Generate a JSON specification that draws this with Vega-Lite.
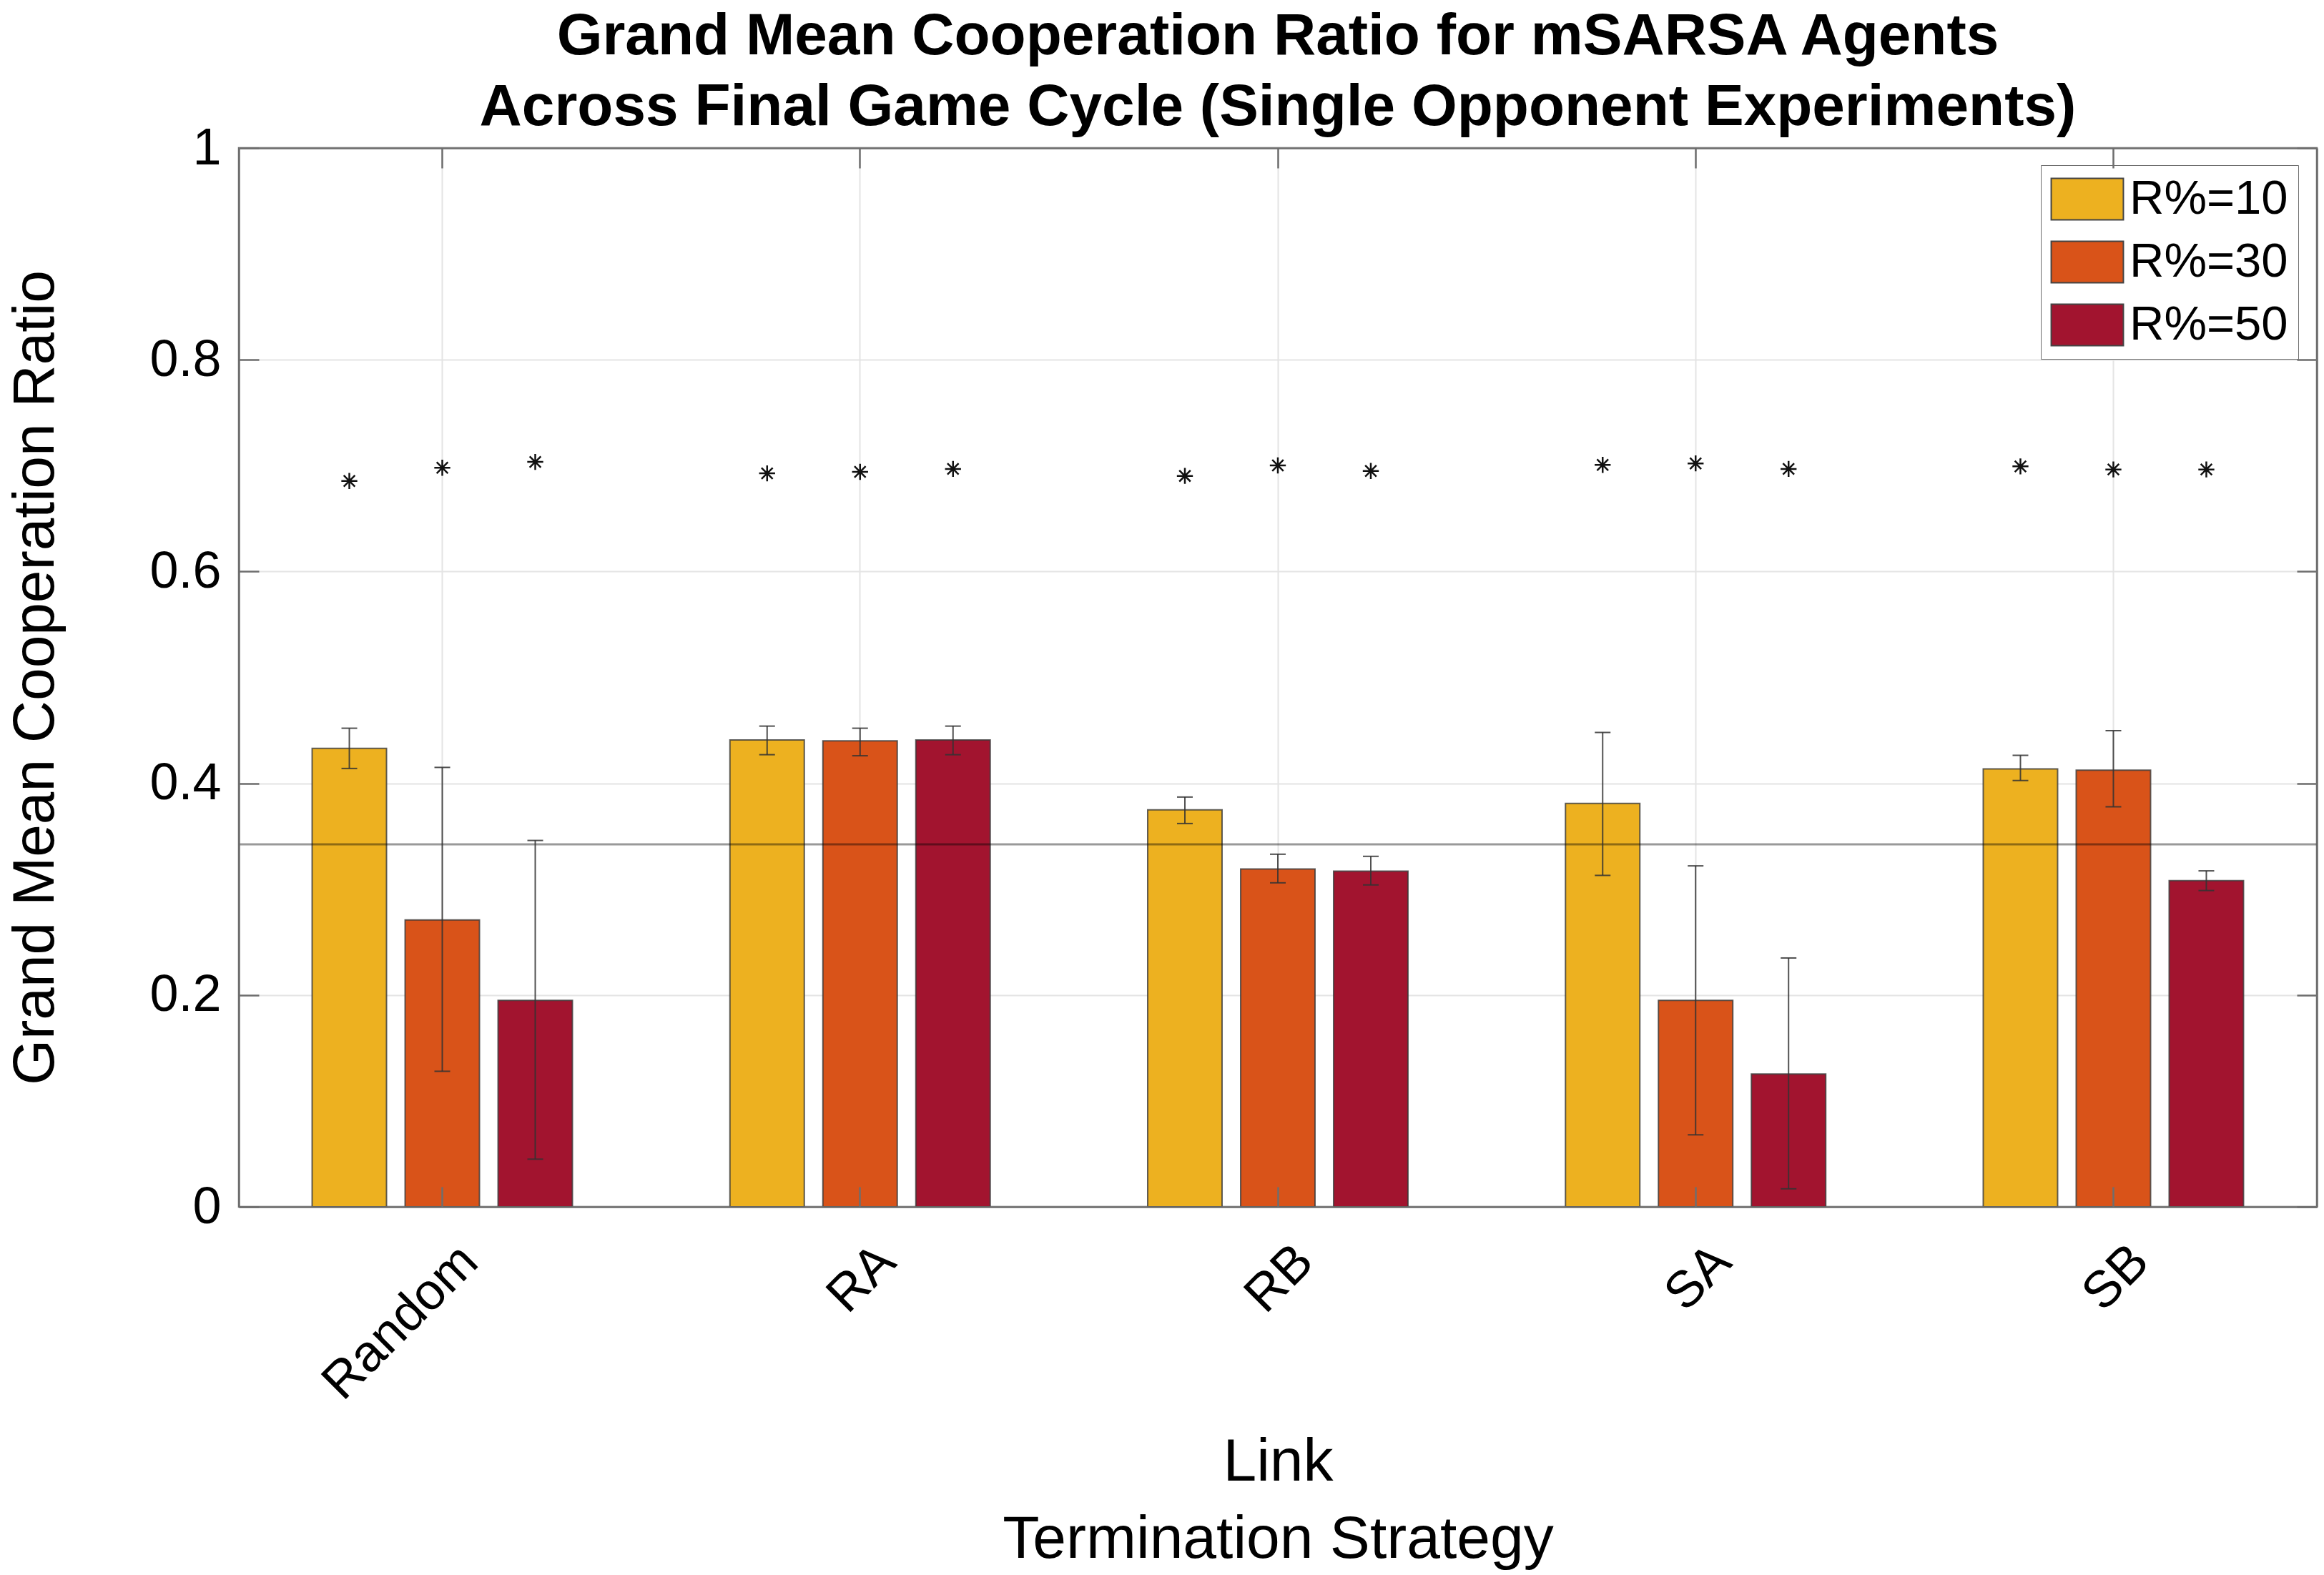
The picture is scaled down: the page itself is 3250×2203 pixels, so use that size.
{
  "$schema": "https://vega.github.io/schema/vega-lite/v6.json",
  "width": 2906,
  "height": 1481,
  "autosize": {"type": "none"},
  "padding": {"left": 334, "top": 207, "right": 10, "bottom": 515},
  "background": "white",
  "config": {
    "font": "Liberation Sans",
    "view": {"stroke": "#6e6e6e", "strokeWidth": 2.5}
  },
  "title": {
    "text": ["Grand Mean Cooperation Ratio for mSARSA Agents", "Across Final Game Cycle (Single Opponent Experiments)"],
    "font": "Liberation Sans",
    "fontSize": 82,
    "fontWeight": "bold",
    "color": "black",
    "lineHeight": 99,
    "anchor": "middle",
    "offset": 35,
    "dy": 121,
    "baseline": "alphabetic"
  },
  "data": {
    "values": [
      {"strategy": "Random", "r": "R%=10", "mean": 0.433, "lo": 0.414, "hi": 0.452, "star": 0.6855},
      {"strategy": "Random", "r": "R%=30", "mean": 0.271, "lo": 0.128, "hi": 0.415, "star": 0.698},
      {"strategy": "Random", "r": "R%=50", "mean": 0.195, "lo": 0.045, "hi": 0.346, "star": 0.7035},
      {"strategy": "RA", "r": "R%=10", "mean": 0.441, "lo": 0.427, "hi": 0.454, "star": 0.6927},
      {"strategy": "RA", "r": "R%=30", "mean": 0.440, "lo": 0.426, "hi": 0.452, "star": 0.6941},
      {"strategy": "RA", "r": "R%=50", "mean": 0.441, "lo": 0.427, "hi": 0.454, "star": 0.6969},
      {"strategy": "RB", "r": "R%=10", "mean": 0.375, "lo": 0.362, "hi": 0.387, "star": 0.6903},
      {"strategy": "RB", "r": "R%=30", "mean": 0.319, "lo": 0.306, "hi": 0.333, "star": 0.7002},
      {"strategy": "RB", "r": "R%=50", "mean": 0.317, "lo": 0.304, "hi": 0.331, "star": 0.695},
      {"strategy": "SA", "r": "R%=10", "mean": 0.381, "lo": 0.313, "hi": 0.448, "star": 0.7007},
      {"strategy": "SA", "r": "R%=30", "mean": 0.195, "lo": 0.068, "hi": 0.322, "star": 0.7021},
      {"strategy": "SA", "r": "R%=50", "mean": 0.1255, "lo": 0.017, "hi": 0.235, "star": 0.6969},
      {"strategy": "SB", "r": "R%=10", "mean": 0.4135, "lo": 0.4026, "hi": 0.4264, "star": 0.6993},
      {"strategy": "SB", "r": "R%=30", "mean": 0.4124, "lo": 0.3778, "hi": 0.4497, "star": 0.6964},
      {"strategy": "SB", "r": "R%=50", "mean": 0.308, "lo": 0.2987, "hi": 0.3173, "star": 0.6964}
    ]
  },
  "layer": [
    {
      "mark": {"type": "bar", "stroke": "#3a3a3a", "strokeWidth": 2, "strokeOpacity": 0.8},
      "encoding": {
        "x": {
          "field": "strategy", "type": "nominal", "sort": ["Random", "RA", "RB", "SA", "SB"],
          "scale": {"paddingInner": 0.377, "paddingOuter": 0.1755},
          "axis": {"orient": "bottom", "grid": true, "bandPosition": 0.5, "gridColor": "#e4e4e4", "gridWidth": 2, "labels": false, "ticks": false, "domain": false, "title": null, "zindex": 0}
        },
        "xOffset": {"field": "r", "type": "nominal", "scale": {"paddingInner": 0.2, "paddingOuter": 0}},
        "y": {
          "field": "mean", "type": "quantitative",
          "scale": {"domain": [0, 1], "nice": false},
          "axis": {"orient": "left", "grid": true, "values": [0, 0.2, 0.4, 0.6, 0.8, 1], "gridColor": "#e4e4e4", "gridWidth": 2, "labels": false, "ticks": false, "domain": false, "title": null, "zindex": 0}
        },
        "color": {
          "field": "r", "type": "nominal",
          "scale": {"domain": ["R%=10", "R%=30", "R%=50"], "range": ["#EDB120", "#D95319", "#A2142F"]},
          "legend": {
            "orient": "none", "legendX": 2520, "legendY": 24, "title": null,
            "symbolType": "M-1.74,-1H1.74V1H-1.74Z", "symbolSize": 3364, "symbolOffset": 17.5,
            "symbolStrokeColor": "#444444", "symbolStrokeWidth": 2, "symbolOpacity": 1,
            "labelFontSize": 67, "labelColor": "black", "labelOffset": 25.5, "labelFont": "Liberation Sans", "labelLimit": 500,
            "rowPadding": 20, "padding": 14, "fillColor": "white", "strokeColor": "#6e6e6e"
          }
        }
      }
    },
    {
      "data": {"values": [{"ref": 0.3423}]},
      "mark": {"type": "rule", "stroke": "#000000", "strokeOpacity": 0.4, "strokeWidth": 3},
      "encoding": {"y": {"field": "ref", "type": "quantitative", "axis": null}}
    },
    {
      "mark": {"type": "rule", "stroke": "#333333", "strokeOpacity": 0.85, "strokeWidth": 2},
      "encoding": {
        "x": {
          "field": "strategy", "type": "nominal", "sort": ["Random", "RA", "RB", "SA", "SB"],
          "axis": {
            "orient": "bottom", "grid": false, "bandPosition": 0.5, "domain": true, "domainColor": "#6e6e6e", "domainWidth": 2.5,
            "ticks": true, "tickSize": -28, "tickColor": "#6e6e6e", "tickWidth": 2.5,
            "labelAngle": -45, "labelAlign": "right", "labelBaseline": "top", "labelFontSize": 72, "labelColor": "black", "labelFont": "Liberation Sans",
            "labelPadding": 68, "labelOffset": 13, "labelLimit": 600,
            "title": ["Link", "Termination Strategy"], "titleFontSize": 84, "titleFontWeight": "normal", "titleColor": "black", "titleFont": "Liberation Sans",
            "titleLineHeight": 108, "titleX": 1453, "titleY": 382, "titleBaseline": "alphabetic", "titleAlign": "center",
            "zindex": 1
          }
        },
        "xOffset": {"field": "r", "type": "nominal"},
        "y": {
          "field": "lo", "type": "quantitative",
          "axis": {
            "orient": "left", "grid": false, "values": [0, 0.2, 0.4, 0.6, 0.8, 1], "format": "~g",
            "domain": true, "domainColor": "#6e6e6e", "domainWidth": 2.5,
            "ticks": true, "tickSize": -28, "tickColor": "#6e6e6e", "tickWidth": 2.5,
            "labelFontSize": 72, "labelColor": "black", "labelFont": "Liberation Sans", "labelPadding": 53,
            "title": "Grand Mean Cooperation Ratio", "titleFontSize": 82, "titleFontWeight": "normal", "titleColor": "black", "titleFont": "Liberation Sans",
            "titleX": -260, "titleY": 740.5, "titleBaseline": "alphabetic", "titleAlign": "center", "titleAngle": 270,
            "zindex": 1
          }
        },
        "y2": {"field": "hi"}
      }
    },
    {
      "mark": {"type": "tick", "color": "#333333", "opacity": 0.85, "thickness": 2, "size": 22},
      "encoding": {
        "x": {"field": "strategy", "type": "nominal", "sort": ["Random", "RA", "RB", "SA", "SB"], "axis": null},
        "xOffset": {"field": "r", "type": "nominal"},
        "y": {"field": "lo", "type": "quantitative", "axis": null}
      }
    },
    {
      "mark": {"type": "tick", "color": "#333333", "opacity": 0.85, "thickness": 2, "size": 22},
      "encoding": {
        "x": {
          "field": "strategy", "type": "nominal", "sort": ["Random", "RA", "RB", "SA", "SB"],
          "axis": {"orient": "top", "grid": false, "bandPosition": 0.5, "labels": false, "title": null, "domain": true, "domainColor": "#6e6e6e", "domainWidth": 2.5, "ticks": true, "tickSize": -28, "tickColor": "#6e6e6e", "tickWidth": 2.5, "zindex": 1}
        },
        "xOffset": {"field": "r", "type": "nominal"},
        "y": {
          "field": "hi", "type": "quantitative",
          "axis": {"orient": "right", "grid": false, "values": [0, 0.2, 0.4, 0.6, 0.8, 1], "labels": false, "title": null, "domain": true, "domainColor": "#6e6e6e", "domainWidth": 2.5, "ticks": true, "tickSize": -28, "tickColor": "#6e6e6e", "tickWidth": 2.5, "zindex": 1}
        }
      }
    },
    {
      "mark": {"type": "point", "shape": "M0,-1L0,1M-1,0L1,0M-0.7,-0.7L0.7,0.7M-0.7,0.7L0.7,-0.7", "size": 500, "filled": false, "stroke": "#111111", "strokeWidth": 2.5, "opacity": 1},
      "encoding": {
        "x": {"field": "strategy", "type": "nominal", "sort": ["Random", "RA", "RB", "SA", "SB"], "axis": null},
        "xOffset": {"field": "r", "type": "nominal"},
        "y": {"field": "star", "type": "quantitative", "axis": null}
      }
    }
  ],
  "resolve": {"axis": {"x": "independent", "y": "independent"}}
}
